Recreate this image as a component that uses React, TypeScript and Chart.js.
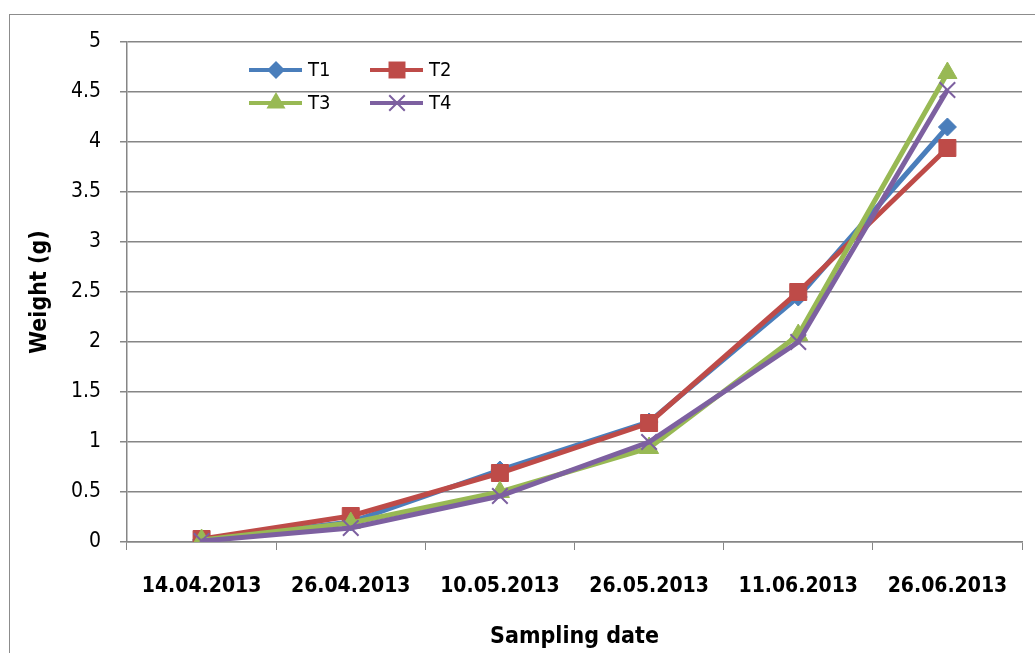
import React, { useEffect, useRef } from "react";
import { Chart, registerables } from "chart.js";

Chart.register(...registerables);

const dates = ["14.04.2013", "26.04.2013", "10.05.2013", "26.05.2013", "11.06.2013", "26.06.2013"];
const t1 = [0.02, 0.2, 0.72, 1.2, 2.45, 4.15];
const t2 = [0.03, 0.26, 0.69, 1.19, 2.5, 3.94];
const t3 = [0.02, 0.19, 0.5, 0.94, 2.07, 4.69];
const t4 = [0.01, 0.14, 0.46, 1.0, 2.0, 4.52];
const yTicks = [0, 0.5, 1, 1.5, 2, 2.5, 3, 3.5, 4, 4.5, 5];

const FONT = "'DejaVu Sans Condensed', 'Liberation Sans Narrow', 'Open Sans', sans-serif";
const GRID = "#868686";

const frame = {
  id: "frame",
  beforeDraw(chart: any) {
    const ctx = chart.ctx;
    ctx.save();
    ctx.fillStyle = "#ffffff";
    ctx.fillRect(0, 0, chart.width, chart.height);
    ctx.strokeStyle = "#8c8c8c";
    ctx.lineWidth = 1;
    ctx.strokeRect(9.5, 14.5, 1200, 1000);
    ctx.restore();
  },
};

function marker(ctx: CanvasRenderingContext2D, style: string, r: number, x: number, y: number, color: string) {
  ctx.save();
  ctx.fillStyle = color;
  ctx.strokeStyle = color;
  ctx.beginPath();
  if (style === "rectRot") {
    ctx.moveTo(x, y - r);
    ctx.lineTo(x + r, y);
    ctx.lineTo(x, y + r);
    ctx.lineTo(x - r, y);
    ctx.closePath();
    ctx.fill();
  } else if (style === "rect") {
    const s = r * Math.SQRT1_2;
    ctx.rect(x - s, y - s, 2 * s, 2 * s);
    ctx.fill();
  } else if (style === "triangle") {
    const h = r * Math.sin(Math.PI / 3);
    ctx.moveTo(x, y - r);
    ctx.lineTo(x + h, y + r / 2);
    ctx.lineTo(x - h, y + r / 2);
    ctx.closePath();
    ctx.fill();
  } else {
    const d = r * Math.SQRT1_2;
    ctx.lineWidth = 2;
    ctx.moveTo(x - d, y - d);
    ctx.lineTo(x + d, y + d);
    ctx.moveTo(x - d, y + d);
    ctx.lineTo(x + d, y - d);
    ctx.stroke();
  }
  ctx.restore();
}

const legendInside = {
  id: "legendInside",
  afterDatasetsDraw(chart: any) {
    const ctx = chart.ctx;
    const pos = [
      [249, 70],
      [370, 70],
      [249, 103],
      [370, 103],
    ];
    chart.data.datasets.forEach((ds: any, i: number) => {
      const [x, y] = pos[i];
      ctx.save();
      ctx.strokeStyle = ds.borderColor;
      ctx.lineWidth = 4;
      ctx.beginPath();
      ctx.moveTo(x, y);
      ctx.lineTo(x + 53, y);
      ctx.stroke();
      ctx.restore();
      marker(ctx, ds.pointStyle, ds.pointRadius, x + 27, y, ds.borderColor);
      ctx.save();
      ctx.fillStyle = "#000";
      ctx.font = `20px ${FONT}`;
      ctx.textBaseline = "middle";
      ctx.textAlign = "left";
      ctx.fillText(ds.label, x + 59, y + 1);
      ctx.restore();
    });
  },
};

export default function App() {
  const ref = useRef<HTMLCanvasElement>(null);
  useEffect(() => {
    if (!ref.current) return;
    const mk = (label: string, data: number[], color: string, style: string, r: number, order: number) => ({
      label,
      data,
      borderColor: color,
      backgroundColor: color,
      pointBackgroundColor: color,
      pointBorderColor: color,
      pointStyle: style,
      pointRadius: r,
      pointBorderWidth: style === "crossRot" ? 2 : 1,
      borderWidth: 5,
      tension: 0,
      order,
    });
    const chart = new Chart(ref.current, {
      type: "line",
      data: {
        labels: dates,
        datasets: [
          mk("T1", t1, "#4A7EBB", "rectRot", 9, 4),
          mk("T2", t2, "#BE4B48", "rect", 12, 3),
          mk("T3", t3, "#98B954", "triangle", 11, 2),
          mk("T4", t4, "#7D60A0", "crossRot", 11, 1),
        ] as any,
      },
      options: {
        animation: false,
        responsive: false,
        layout: { padding: { left: 0, right: 13, top: 42, bottom: 0 } },
        plugins: { legend: { display: false }, tooltip: { enabled: false } },
        scales: {
          x: {
            offset: true,
            grid: { drawOnChartArea: false, drawTicks: true, tickLength: 8, offset: true, color: GRID },
            border: { display: true, color: GRID, width: 1.5 },
            ticks: { color: "#000", font: { family: FONT, size: 21, weight: "bold" }, padding: 24, maxRotation: 0 },
            title: {
              display: true,
              text: "Sampling date",
              color: "#000",
              font: { family: FONT, size: 23, weight: "bold" },
              padding: { top: 0, bottom: 2 },
            },
            afterFit(scale: any) {
              scale.height = 111;
            },
          },
          y: {
            min: 0,
            max: 5,
            afterBuildTicks(scale: any) {
              scale.ticks = yTicks.map((v) => ({ value: v }));
            },
            grid: { color: GRID, lineWidth: 1.5, drawTicks: true, tickLength: 7 },
            border: { display: true, color: GRID, width: 1.5 },
            ticks: {
              color: "#000",
              font: { family: FONT, size: 21 },
              padding: 19,
              callback: (v: any) => String(v),
            },
            title: {
              display: true,
              text: "Weight (g)",
              color: "#000",
              font: { family: FONT, size: 23, weight: "bold" },
              padding: { top: 26, bottom: 0 },
            },
            afterFit(scale: any) {
              scale.width = 127;
            },
          },
        },
      } as any,
      plugins: [frame, legendInside],
    });
    return () => chart.destroy();
  }, []);
  return (
    <div style={{ position: "absolute", left: 0, top: 0, width: 1035, height: 653 }}>
      <canvas ref={ref} width={1035} height={653} style={{ display: "block" }} />
    </div>
  );
}
